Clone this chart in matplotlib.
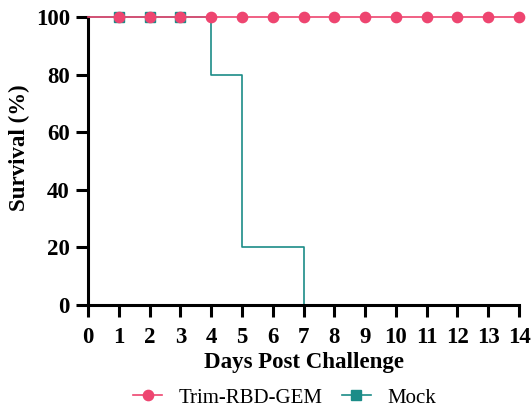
import matplotlib.pyplot as plt

days = list(range(0, 15))
trim_survival = [100] * 15
trim_marker_days = list(range(1, 15))
trim_marker_vals = [100] * 14

mock_days = [0, 4, 5, 7]
mock_survival = [100, 80, 20, 0]
mock_marker_days = [1, 2, 3]
mock_marker_vals = [100, 100, 100]

pink = "#EE4570"
teal = "#1B8C88"

plt.rcParams["font.family"] = ["Liberation Serif", "DejaVu Serif"]

fig = plt.figure(figsize=(5.32, 4.09), dpi=100)
ax = fig.add_axes([0.1654, 0.2543, 0.8102, 0.7041])

# Mock: step survival curve
ax.step(mock_days, mock_survival, where="post", color=teal, linewidth=1.2, zorder=2)
ax.plot(mock_marker_days, mock_marker_vals, linestyle="none", marker="s",
        markersize=7.2, color=teal, zorder=3)
# Trim-RBD-GEM
ax.plot(days, trim_survival, color=pink, linewidth=1.2, zorder=4)
ax.plot(trim_marker_days, trim_marker_vals, linestyle="none", marker="o",
        markersize=7.4, color=pink, zorder=5)

# legend handles
h1, = ax.plot([], [], color=pink, linewidth=1.2, marker="o", markersize=7.4)
h2, = ax.plot([], [], color=teal, linewidth=1.2, marker="s", markersize=6.5)
fig.legend([h1, h2], ["Trim-RBD-GEM", "Mock"], loc="center",
           bbox_to_anchor=(0.535, 0.027), ncol=2, frameon=False, fontsize=15,
           handlelength=1.4, columnspacing=0.9, handletextpad=0.8)

ax.set_xlim(0, 14)
ax.set_ylim(0, 100)
ax.set_xticks(days)
ax.set_yticks([0, 20, 40, 60, 80, 100])
ax.spines["top"].set_visible(False)
ax.spines["right"].set_visible(False)
ax.spines["left"].set_linewidth(2.2)
ax.spines["bottom"].set_linewidth(2.2)
ax.xaxis.set_ticks_position("bottom")
ax.yaxis.set_ticks_position("left")
ax.tick_params(direction="out", width=2.2, length=8.5, labelsize=16.5,
               color="black")
ax.tick_params(axis="x", pad=7)
ax.tick_params(axis="y", pad=4.5)
for lbl in ax.get_xticklabels() + ax.get_yticklabels():
    lbl.set_fontweight("bold")
ax.set_xlabel("Days Post Challenge", fontsize=16.5, fontweight="bold", labelpad=3)
ax.set_ylabel("Survival (%)", fontsize=16.5, fontweight="bold", labelpad=4, y=0.545)
for line in ax.lines:
    line.set_clip_on(False)

fig.savefig("out.png", dpi=100)
